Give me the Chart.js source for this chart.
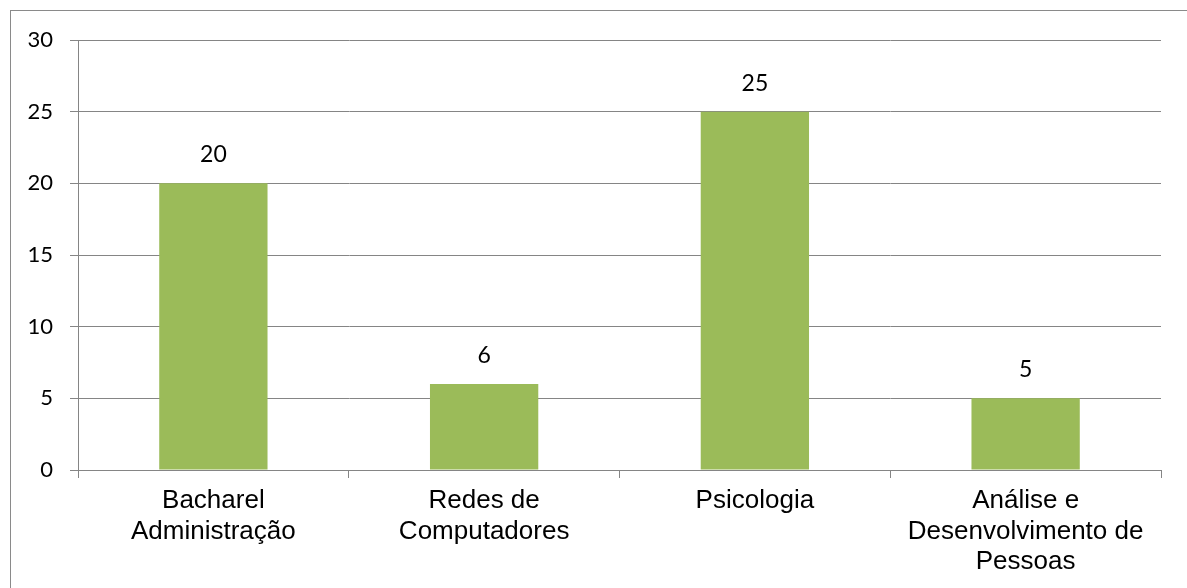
<!DOCTYPE html>
<html>
<head>
<meta charset="utf-8">
<script src="https://cdn.jsdelivr.net/npm/chart.js@4"></script>
<style>
  html, body { margin: 0; padding: 0; background: #fff; }
  #wrap { position: relative; width: 1187px; height: 588px; overflow: hidden; }
  #frame { position: absolute; left: 10px; top: 10px; width: 1200px; height: 600px; border: 1px solid #8a8a8a; }
  canvas { position: absolute; left: 0; top: 0; }
</style>
</head>
<body>
<div id="wrap">
  <div id="frame"></div>
  <canvas id="chart" width="1187" height="588"></canvas>
</div>
<script>
// ── DATA ──────────────────────────────────────────────────────────────────────
const categories = [
  ['Bacharel', 'Administração'],
  ['Redes de', 'Computadores'],
  ['Psicologia'],
  ['Análise e', 'Desenvolvimento de', 'Pessoas']
];
const values = [20, 6, 25, 5];
const yTicks = [0, 5, 10, 15, 20, 25, 30];

const GRID = '#858585';
const BAR  = '#9BBB59';

// value labels above each bar
const valueLabels = {
  id: 'valueLabels',
  afterDatasetsDraw(chart) {
    const ctx = chart.ctx;
    const meta = chart.getDatasetMeta(0);
    ctx.save();
    ctx.font = '23px Lato';
    ctx.fillStyle = '#000';
    ctx.textAlign = 'center';
    ctx.textBaseline = 'alphabetic';
    meta.data.forEach((bar, i) => {
      ctx.fillText(String(values[i]), bar.x, bar.y - 21);
    });
    ctx.restore();
  }
};

new Chart(document.getElementById('chart'), {
  type: 'bar',
  data: {
    labels: categories,
    datasets: [{
      data: values,
      backgroundColor: BAR,
      borderWidth: 0,
      barPercentage: 0.4,
      categoryPercentage: 1
    }]
  },
  options: {
    responsive: false,
    animation: false,
    events: [],
    layout: { padding: { left: 0, top: 40, right: 26, bottom: 0 } },
    plugins: { legend: { display: false }, tooltip: { enabled: false } },
    scales: {
      x: {
        offset: true,
        grid: { offset: true, drawOnChartArea: false, drawTicks: true, tickLength: 8, color: GRID, lineWidth: 1 },
        border: { display: true, color: GRID, width: 1 },
        ticks: {
          color: '#000',
          font: { family: '"Liberation Sans", Arial', size: 26, lineHeight: 1.17 },
          padding: 8,
          maxRotation: 0,
          autoSkip: false
        },
        afterFit(scale) { scale.height = 118; }
      },
      y: {
        min: 0, max: 30,
        afterBuildTicks(scale) { scale.ticks = yTicks.map(v => ({ value: v })); },
        grid: { color: GRID, lineWidth: 1, drawTicks: true, tickLength: 8 },
        border: { display: true, color: GRID, width: 1 },
        ticks: {
          color: '#000',
          font: { family: 'Lato', size: 22 },
          padding: 17
        },
        afterFit(scale) { scale.width = 78; }
      }
    }
  },
  plugins: [valueLabels]
});
</script>
</body>
</html>
